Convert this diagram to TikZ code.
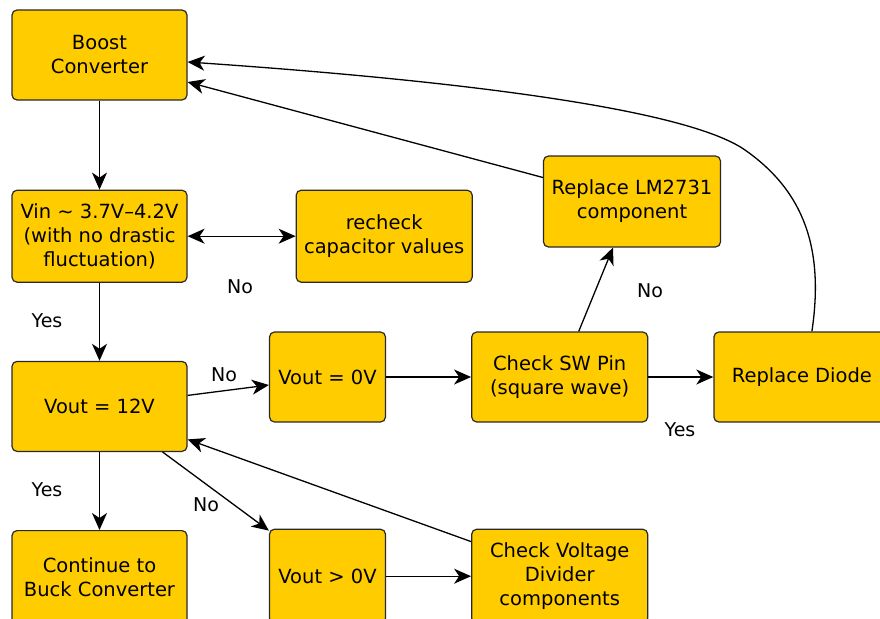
\documentclass[tikz,border=0pt]{standalone}
\usepackage{fontspec}
\setmainfont{DejaVu Sans}
\usepackage{tikz}
\usetikzlibrary{shapes,arrows.meta,positioning}
\definecolor{boxfill}{RGB}{255, 204, 0}
\definecolor{boxline}{RGB}{40, 40, 40}
\tikzstyle{stage} = [rectangle, rounded corners=5pt, draw=boxline, line width=1.2pt, fill=boxfill, text=black, align=center, font=\fontsize{19.5}{24}\selectfont, minimum width=175pt, minimum height=90pt, inner sep=0pt]
\tikzstyle{textonly} = [draw=none, fill=none, text=black, font=\fontsize{19}{24}\selectfont]
\tikzstyle{tedge}  = [draw, line width=1.3pt, >={Stealth[length=17pt, width=15pt, inset=5pt]}, ->]

\begin{document}
\begin{tikzpicture}[x=1pt, y=-1pt]
\clip (0,0) rectangle (880,618);

% stages =============================
\node[stage] (boost) at (99.5,55) {Boost\\Converter};
\node[stage, below=89pt of boost, minimum height=92pt] (vin) {Vin \textasciitilde{} 3.7V--4.2V\\(with no drastic\\fluctuation)};
\node[stage, right=108pt of vin, minimum height=92pt, minimum width=176pt] (recheck) {recheck\\capacitor values};
\node[stage, below=78pt of vin] (vout12) {Vout = 12V};
\node[stage, below=78pt of vout12, minimum height=94pt] (cont) {Continue to\\Buck Converter};
\node[stage, minimum width=116pt] (vout0) at (327.5,377) {Vout = 0V};
\node[stage, right=85pt of vout0, minimum width=176pt] (checksw) {Check SW Pin\\(square wave)};
\node[stage, right=65pt of checksw, minimum width=176pt] (diode) {Replace Diode};
\node[stage, minimum width=177pt, minimum height=91pt] (lm) at (632,201.5) {Replace LM2731\\component};
\node[stage, below=106pt of vout0, minimum width=116pt, minimum height=94pt] (voutg) {Vout > 0V};
\node[stage, right=85pt of voutg, minimum width=176pt, minimum height=94pt] (checkvd) {Check Voltage\\Divider\\components};

% labels
\node[textonly] (no1) at (240,287) {No};
\node[textonly] (yes1) at (47,321) {Yes};
\node[textonly] (no2) at (224,375) {No};
\node[textonly] (yes2) at (47,490) {Yes};
\node[textonly] (no3) at (206,505) {No};
\node[textonly] (no4) at (650,291) {No};
\node[textonly] (yes3) at (680,430) {Yes};

% edges
\path[tedge] (boost) -- (vin);
\path[tedge, <->] (vin) -- (recheck);
\path[tedge] (vin) -- (vout12);
\path[tedge] (vout12) -- (cont);
\path[tedge] ([yshift=11pt]vout12.east) -- ([yshift=-8pt]vout0.west);
\path[tedge] ([xshift=-25pt]vout12.south east) -- ([yshift=-2pt]voutg.north west);
\path[tedge] (vout0) -- (checksw);
\path[tedge] (checksw) -- (diode);
\path[tedge] (voutg) -- (checkvd);
\path[tedge] ([yshift=-13pt]checkvd.north west) -- ([yshift=-33pt]vout12.east);
\path[tedge] ([xshift=19pt]checksw.north) -- ([xshift=-19pt]lm.south);
\path[tedge] ([yshift=24pt]lm.west) -- ([yshift=-27pt]boost.east);
\coordinate (bend) at (745,150);
\path[tedge] ([xshift=10pt]diode.north) .. controls (824,250) and (805,192) .. (bend) .. controls (685,108) and (450,80) .. ([yshift=-7pt]boost.east);

\end{tikzpicture}
\end{document}
